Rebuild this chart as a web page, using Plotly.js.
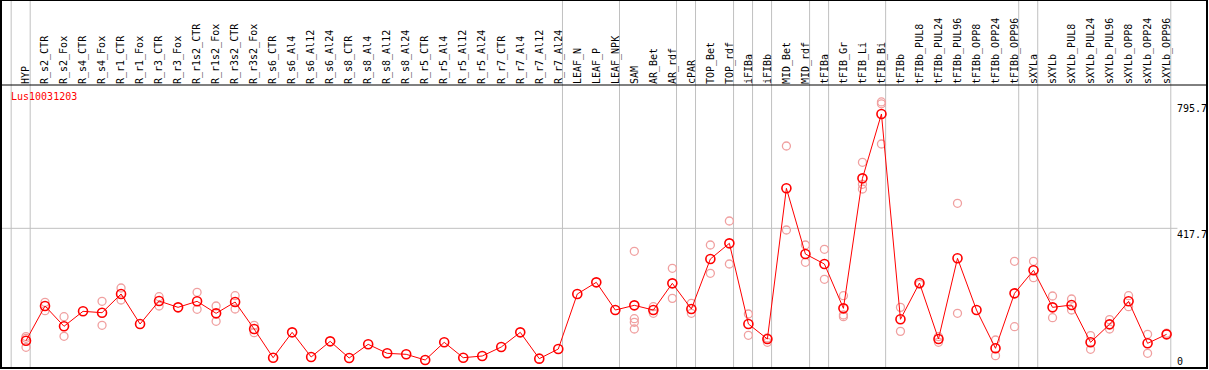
<!DOCTYPE html>
<html>
<head>
<meta charset="utf-8">
<script src="https://cdn.plot.ly/plotly-3.0.1.min.js"></script>
<style>html,body{margin:0;padding:0;background:#fff;}#chart{width:1209px;height:370px;}</style>
</head>
<body>
<div id="chart"></div>
<script>
// ---- data ----
const geneName = "Lus10031203";
const categories = ["HYP","R_s2_CTR","R_s2_Fox","R_s4_CTR","R_s4_Fox","R_r1_CTR","R_r1_Fox","R_r3_CTR","R_r3_Fox","R_r1s2_CTR","R_r1s2_Fox","R_r3s2_CTR","R_r3s2_Fox","R_s6_CTR","R_s6_Al4","R_s6_Al12","R_s6_Al24","R_s8_CTR","R_s8_Al4","R_s8_Al12","R_s8_Al24","R_r5_CTR","R_r5_Al4","R_r5_Al12","R_r5_Al24","R_r7_CTR","R_r7_Al4","R_r7_Al12","R_r7_Al24","LEAF_N","LEAF_P","LEAF_NPK","SAM","AR_Bet","AR_rdf","cPAR","TOP_Bet","TOP_rdf","iFIBa","iFIBb","MID_Bet","MID_rdf","tFIBa","tFIB_Gr","tFIB_Li","tFIB_Bi","tFIBb","tFIBb_PUL8","tFIBb_PUL24","tFIBb_PUL96","tFIBb_OPP8","tFIBb_OPP24","tFIBb_OPP96","sXYLa","sXYLb","sXYLb_PUL8","sXYLb_PUL24","sXYLb_PUL96","sXYLb_OPP8","sXYLb_OPP24","sXYLb_OPP96"];
const groupSizes = [1,28,3,3,1,2,1,1,2,1,3,7,1,7];
const meanValues = [81.6,185.4,124.7,169.5,165.4,221.3,131.6,200.4,181.4,199.4,163.5,197.4,116.6,30.8,106.6,32.9,79.7,29.9,70.8,43.9,40.9,23.9,76.8,30.8,35.9,62.8,106.6,27.9,56.8,221.3,256.2,173.4,187.4,173.4,253.2,176.4,326.0,372.8,131.6,86.7,537.4,340.9,311.0,178.4,567.2,759.6,145.6,254.2,86.7,328.0,173.4,58.9,223.3,292.1,181.4,188.4,76.8,130.6,199.4,73.8,100.7];
const replicates = [[94,88.8,61.9],[196.5,171.4],[153.4,94.8],[],[199.4,127.6],[239.2,203.3],[],[213.3,185.4],[],[226.3,175.5],[185.4,139.6],[216.3,176.4],[127.6,105.6],[],[],[],[],[],[],[],[],[],[],[],[],[],[],[],[],[],[],[],[349,147.5,136.6,116.6],[183.4,163.5],[298.1,208.3],[193.5,163.5],[367.8,283.2],[439.6,311],[161.5,97.7],[89.7,76.8],[663.9,412.7],[367.8,316],[354.9,265.2],[216.3,158.5,153.4],[615.1,549.3,535.3],[795.7,790,669.9],[181.4,109.6],[250],[93.7,76.8],[492.5,163.5],[],[83.7,36.9],[319,123.6],[319,270.2],[215.3,150.4],[206.3,173.4],[96.7,55.9],[144.6,116.6],[216.3,183.4],[100.7,43.9],[104]];
const yTickValues = [0, 417.7, 795.7];
const yTickLabels = ["0", "417.7", "795.7"];

// ---- build traces ----
const repX = [], repY = [];
replicates.forEach((arr, i) => arr.forEach(v => { repX.push(categories[i]); repY.push(v); }));

const FONT = "DejaVu Sans Mono, monospace";
const traces = [
  {x: repX, y: repY, type: "scatter", mode: "markers", hoverinfo: "skip",
   marker: {symbol: "circle-open", size: 8, color: "#f0a0a0", line: {width: 1.3, color: "#f0a0a0"}}},
  {x: categories, y: meanValues, type: "scatter", mode: "lines+markers", hoverinfo: "skip",
   line: {color: "#ff0000", width: 1},
   marker: {symbol: "circle-open", size: 9, color: "#ff0000", line: {width: 1.6, color: "#ff0000"}}}
];

const plotH = 283, headerH = 85;
const topPaper = 1 + headerH / plotH;

// separators between groups
const shapes = [];
let pos = -1;
const sepPositions = [pos + 0.22];
groupSizes.forEach(g => { pos += g; sepPositions.push(pos + 0.22); });
sepPositions.forEach(p => shapes.push({type: "line", xref: "x", yref: "paper", x0: p, x1: p, y0: 0, y1: topPaper, line: {color: "#c0c0c0", width: 1}, layer: "below"}));
// horizontal gridline at middle tick
shapes.push({type: "line", xref: "paper", yref: "y", x0: 0, x1: 0.9755, y0: yTickValues[1], y1: yTickValues[1], line: {color: "#c0c0c0", width: 1}, layer: "below"});
// frame & header line
shapes.push({type: "rect", xref: "paper", yref: "paper", x0: 0, x1: 1, y0: 0, y1: topPaper, line: {color: "#000", width: 2}});
shapes.push({type: "line", xref: "paper", yref: "paper", x0: 0, x1: 1, y0: 1, y1: 1, line: {color: "#000", width: 1}});

const annotations = [
  {xref: "paper", yref: "paper", x: 0.0066, y: 0.985, xanchor: "left", yanchor: "top", showarrow: false,
   text: geneName, font: {family: FONT, size: 10, color: "#ff0000"}}
];
yTickValues.forEach((v, i) => annotations.push({
  xref: "paper", yref: "y", x: 0.9745, y: v, xanchor: "left", yanchor: i === 0 ? "bottom" : "top",
  showarrow: false, text: yTickLabels[i], font: {family: FONT, size: 10, color: "#000"}, borderpad: 0
}));

const layout = {
  width: 1209, height: 370,
  margin: {l: 1, r: 2, t: headerH, b: 2, autoexpand: false},
  paper_bgcolor: "#fff", plot_bgcolor: "#fff",
  showlegend: false, hovermode: false,
  xaxis: {type: "category", categoryorder: "array", categoryarray: categories,
          range: [-1.315, 62.125], side: "top", tickangle: -90,
          tickfont: {family: FONT, size: 10, color: "#000"}, showgrid: false, zeroline: false,
          showline: false, ticks: "", automargin: false, fixedrange: true},
  yaxis: {range: [0, 846.3], showgrid: false, zeroline: false, showline: false,
          showticklabels: false, ticks: "", fixedrange: true},
  shapes: shapes,
  annotations: annotations
};

Plotly.newPlot("chart", traces, layout, {staticPlot: true, displayModeBar: false});
</script>
</body>
</html>
